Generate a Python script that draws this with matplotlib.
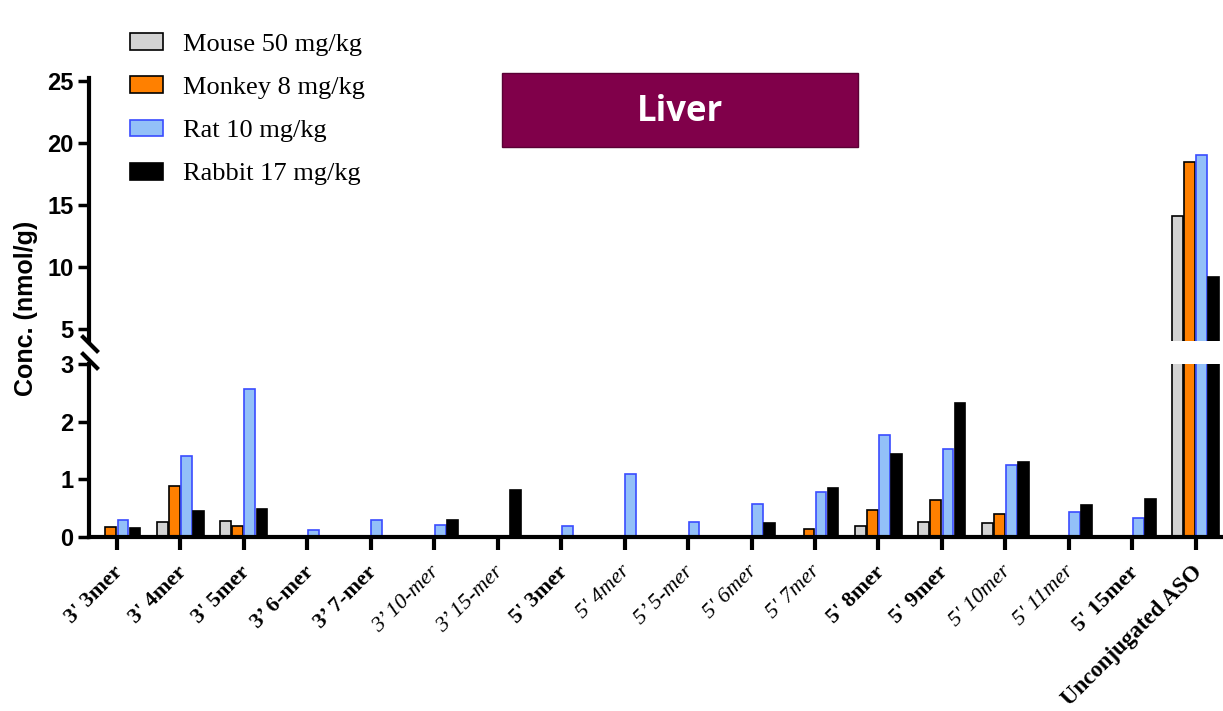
import numpy as np
import matplotlib
matplotlib.use("Agg")
import matplotlib.pyplot as plt
import matplotlib.transforms as mtransforms
from matplotlib.patches import Rectangle

# data (nmol/g)
groups = ["3' 3mer", "3' 4mer", "3' 5mer", "3\u2019 6-mer", "3\u2019 7-mer",
          "3\u2019 10-mer", "3\u2019 15-mer", "5' 3mer", "5' 4mer", "5\u2019 5-mer",
          "5' 6mer", "5' 7mer", "5' 8mer", "5' 9mer", "5' 10mer", "5' 11mer",
          "5' 15mer", "Unconjugated ASO"]
label_style = ["bold", "bold", "bold", "bold", "bold", "italic", "italic", "bold",
               "italic", "italic", "italic", "italic", "bold", "bold", "italic",
               "italic", "bold", "bold"]

mouse = [0, 0.26, 0.28, 0, 0, 0, 0, 0, 0, 0, 0, 0, 0.19, 0.26, 0.24, 0, 0, 14.07]
monkey = [0.18, 0.89, 0.19, 0, 0, 0, 0, 0, 0, 0, 0, 0.14, 0.47, 0.64, 0.40, 0, 0, 18.45]
rat = [0.30, 1.41, 2.56, 0.12, 0.29, 0.21, 0, 0.19, 1.09, 0.26, 0.57, 0.78, 1.77,
       1.53, 1.25, 0.43, 0.33, 19.0]
rabbit = [0.16, 0.45, 0.49, 0, 0, 0.30, 0.82, 0, 0, 0, 0.25, 0.85, 1.44, 2.33,
          1.30, 0.56, 0.66, 9.19]

series = [
    ("Mouse 50 mg/kg", mouse, "#d3d3d3", "black"),
    ("Monkey 8 mg/kg", monkey, "#ff8000", "black"),
    ("Rat 10 mg/kg", rat, "#93c0f8", "#3a4cff"),
    ("Rabbit 17 mg/kg", rabbit, "black", "black"),
]

W, H = 1223, 711
fig = plt.figure(figsize=(W / 100, H / 100), dpi=100)

left = 89 / W
ax_bot = fig.add_axes([left, (H - 537) / H, 1 - left, (537 - 364) / H])
ax_top = fig.add_axes([left, (H - 341) / H, 1 - left, (341 - 78) / H], sharex=ax_bot)

x = np.arange(len(groups))
bw = 0.17
step = 0.19
for ax in (ax_bot, ax_top):
    for i, (name, vals, fc, ec) in enumerate(series):
        ax.bar(x + (i - 1.5) * step, vals, width=bw, color=fc, edgecolor=ec,
               linewidth=1.2, label=name, zorder=2)

ax_bot.set_ylim(0, 3)
ax_top.set_ylim(4, 25.25)
ax_bot.set_xlim(-0.44, 17.43)
ax_bot.set_yticks([0, 1, 2, 3])
ax_top.set_yticks([5, 10, 15, 20, 25])

for ax in (ax_bot, ax_top):
    ax.spines["top"].set_visible(False)
    ax.spines["right"].set_visible(False)
    ax.spines["left"].set_linewidth(3)
    ax.spines["bottom"].set_linewidth(3)
    ax.tick_params(axis="y", length=8, width=2.5, labelsize=17, pad=3)
    for t in ax.get_yticklabels():
        t.set_fontfamily("Liberation Sans")
        t.set_fontweight("bold")

ax_top.spines["bottom"].set_visible(False)
ax_top.tick_params(axis="x", bottom=False, labelbottom=False)

ax_bot.set_xticks(x)
ax_bot.set_xticklabels(groups, rotation=45, ha="right", rotation_mode="anchor")
ax_bot.tick_params(axis="x", length=9, width=3, pad=9)
shift = mtransforms.ScaledTranslation(-4 / 100, 0, fig.dpi_scale_trans)
for t, st in zip(ax_bot.get_xticklabels(), label_style):
    t.set_fontfamily("Liberation Serif")
    t.set_fontsize(16)
    t.set_transform(t.get_transform() + shift)
    if st == "bold":
        t.set_fontweight("bold")
    else:
        t.set_fontstyle("italic")
ax_bot.get_xticklabels()[-1].set_fontsize(16.5)

# break marks on the y axis
for yp in (344, 361):
    fig.add_artist(plt.Line2D([83 / W, 97 / W], [(H - yp + 7) / H, (H - yp - 7) / H],
                              color="black", linewidth=3))

fig.text(26 / W, (H - 308) / H, "Conc. (nmol/g)", rotation=90, ha="center",
         va="center", fontsize=18, fontweight="bold", family="Liberation Sans")

# title box
fig.add_artist(Rectangle((502 / W, (H - 147) / H), (858 - 502) / W, (147 - 73) / H,
                         facecolor="#80004a", edgecolor="#5a0035", linewidth=1))
fig.text(680 / W, (H - 112) / H, "Liver", ha="center", va="center", color="white",
         fontsize=25, fontweight="bold", family="Open Sans")

handles, labels = ax_bot.get_legend_handles_labels()
fig.legend(handles, labels, loc="upper left", bbox_to_anchor=(130 / W, 1 - 33 / H),
           frameon=False, borderpad=0, borderaxespad=0, handlelength=1.25,
           handleheight=0.6, handletextpad=0.76, labelspacing=0.78,
           prop={"family": "Liberation Serif", "size": 19})

fig.savefig("out.png", dpi=100)
